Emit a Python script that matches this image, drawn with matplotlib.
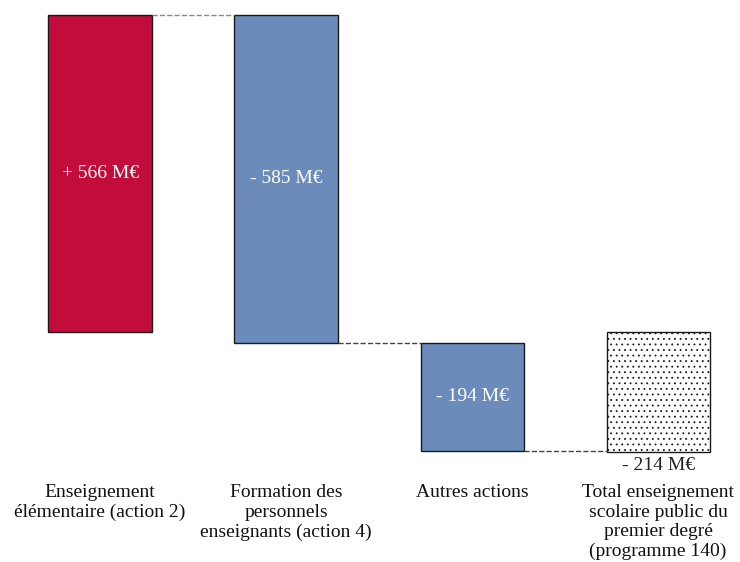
import matplotlib.pyplot as plt

# Programme 140 : variation par action (M€)
categories = [
    "Enseignement\nélémentaire (action 2)",
    "Formation des\npersonnels\nenseignants (action 4)",
    "Autres actions",
    "Total enseignement\nscolaire public du\npremier degré\n(programme 140)",
]
changes = [566, -585, -194]
total = -214
labels = ["+ 566 M€", "- 585 M€", "- 194 M€", "- 214 M€"]
colors = ["#C20C3B", "#6B8CBA", "#6B8CBA"]

plt.rcParams["font.family"] = ["Liberation Serif", "DejaVu Serif"]
plt.rcParams["hatch.linewidth"] = 0.6

fig = plt.figure(figsize=(7.4, 5.62), dpi=100)
ax = fig.add_axes([0, 0, 1, 1])
ax.set_xlim(-0.538, 3.44)
ax.set_ylim(-411, 593)
ax.axis("off")

width = 0.555
level = 0
tops = []
for i, (c, col) in enumerate(zip(changes, colors)):
    start = level
    level = level + c
    ax.bar(i, c, bottom=start, width=width, color=col, edgecolor="#1a1a1a", linewidth=1)
    ax.text(i, start + c / 2, labels[i], color="white", ha="center", va="center", fontsize=14)
    tops.append((start, level))

# total bar, dotted fill
ax.bar(3, total, bottom=0, width=width, color="white", edgecolor="#1a1a1a",
       linewidth=1, hatch="...")
ax.text(3, total - 9, labels[3], color="#222222", ha="center", va="top", fontsize=14)

# dashed connectors between bars
ax.plot([0 + width / 2, 1 - width / 2], [tops[0][1]] * 2, ls="--", color="#888888", lw=1)
ax.plot([1 + width / 2, 2 - width / 2], [tops[1][1]] * 2, ls="--", color="#444444", lw=1)
ax.plot([2 + width / 2, 3 - width / 2], [tops[2][1]] * 2, ls="--", color="#444444", lw=1)

for i, cat in enumerate(categories):
    ax.text(i, -272, cat, ha="center", va="top", fontsize=14, color="#111111",
            linespacing=1.2)

fig.savefig("out.png", dpi=100)
